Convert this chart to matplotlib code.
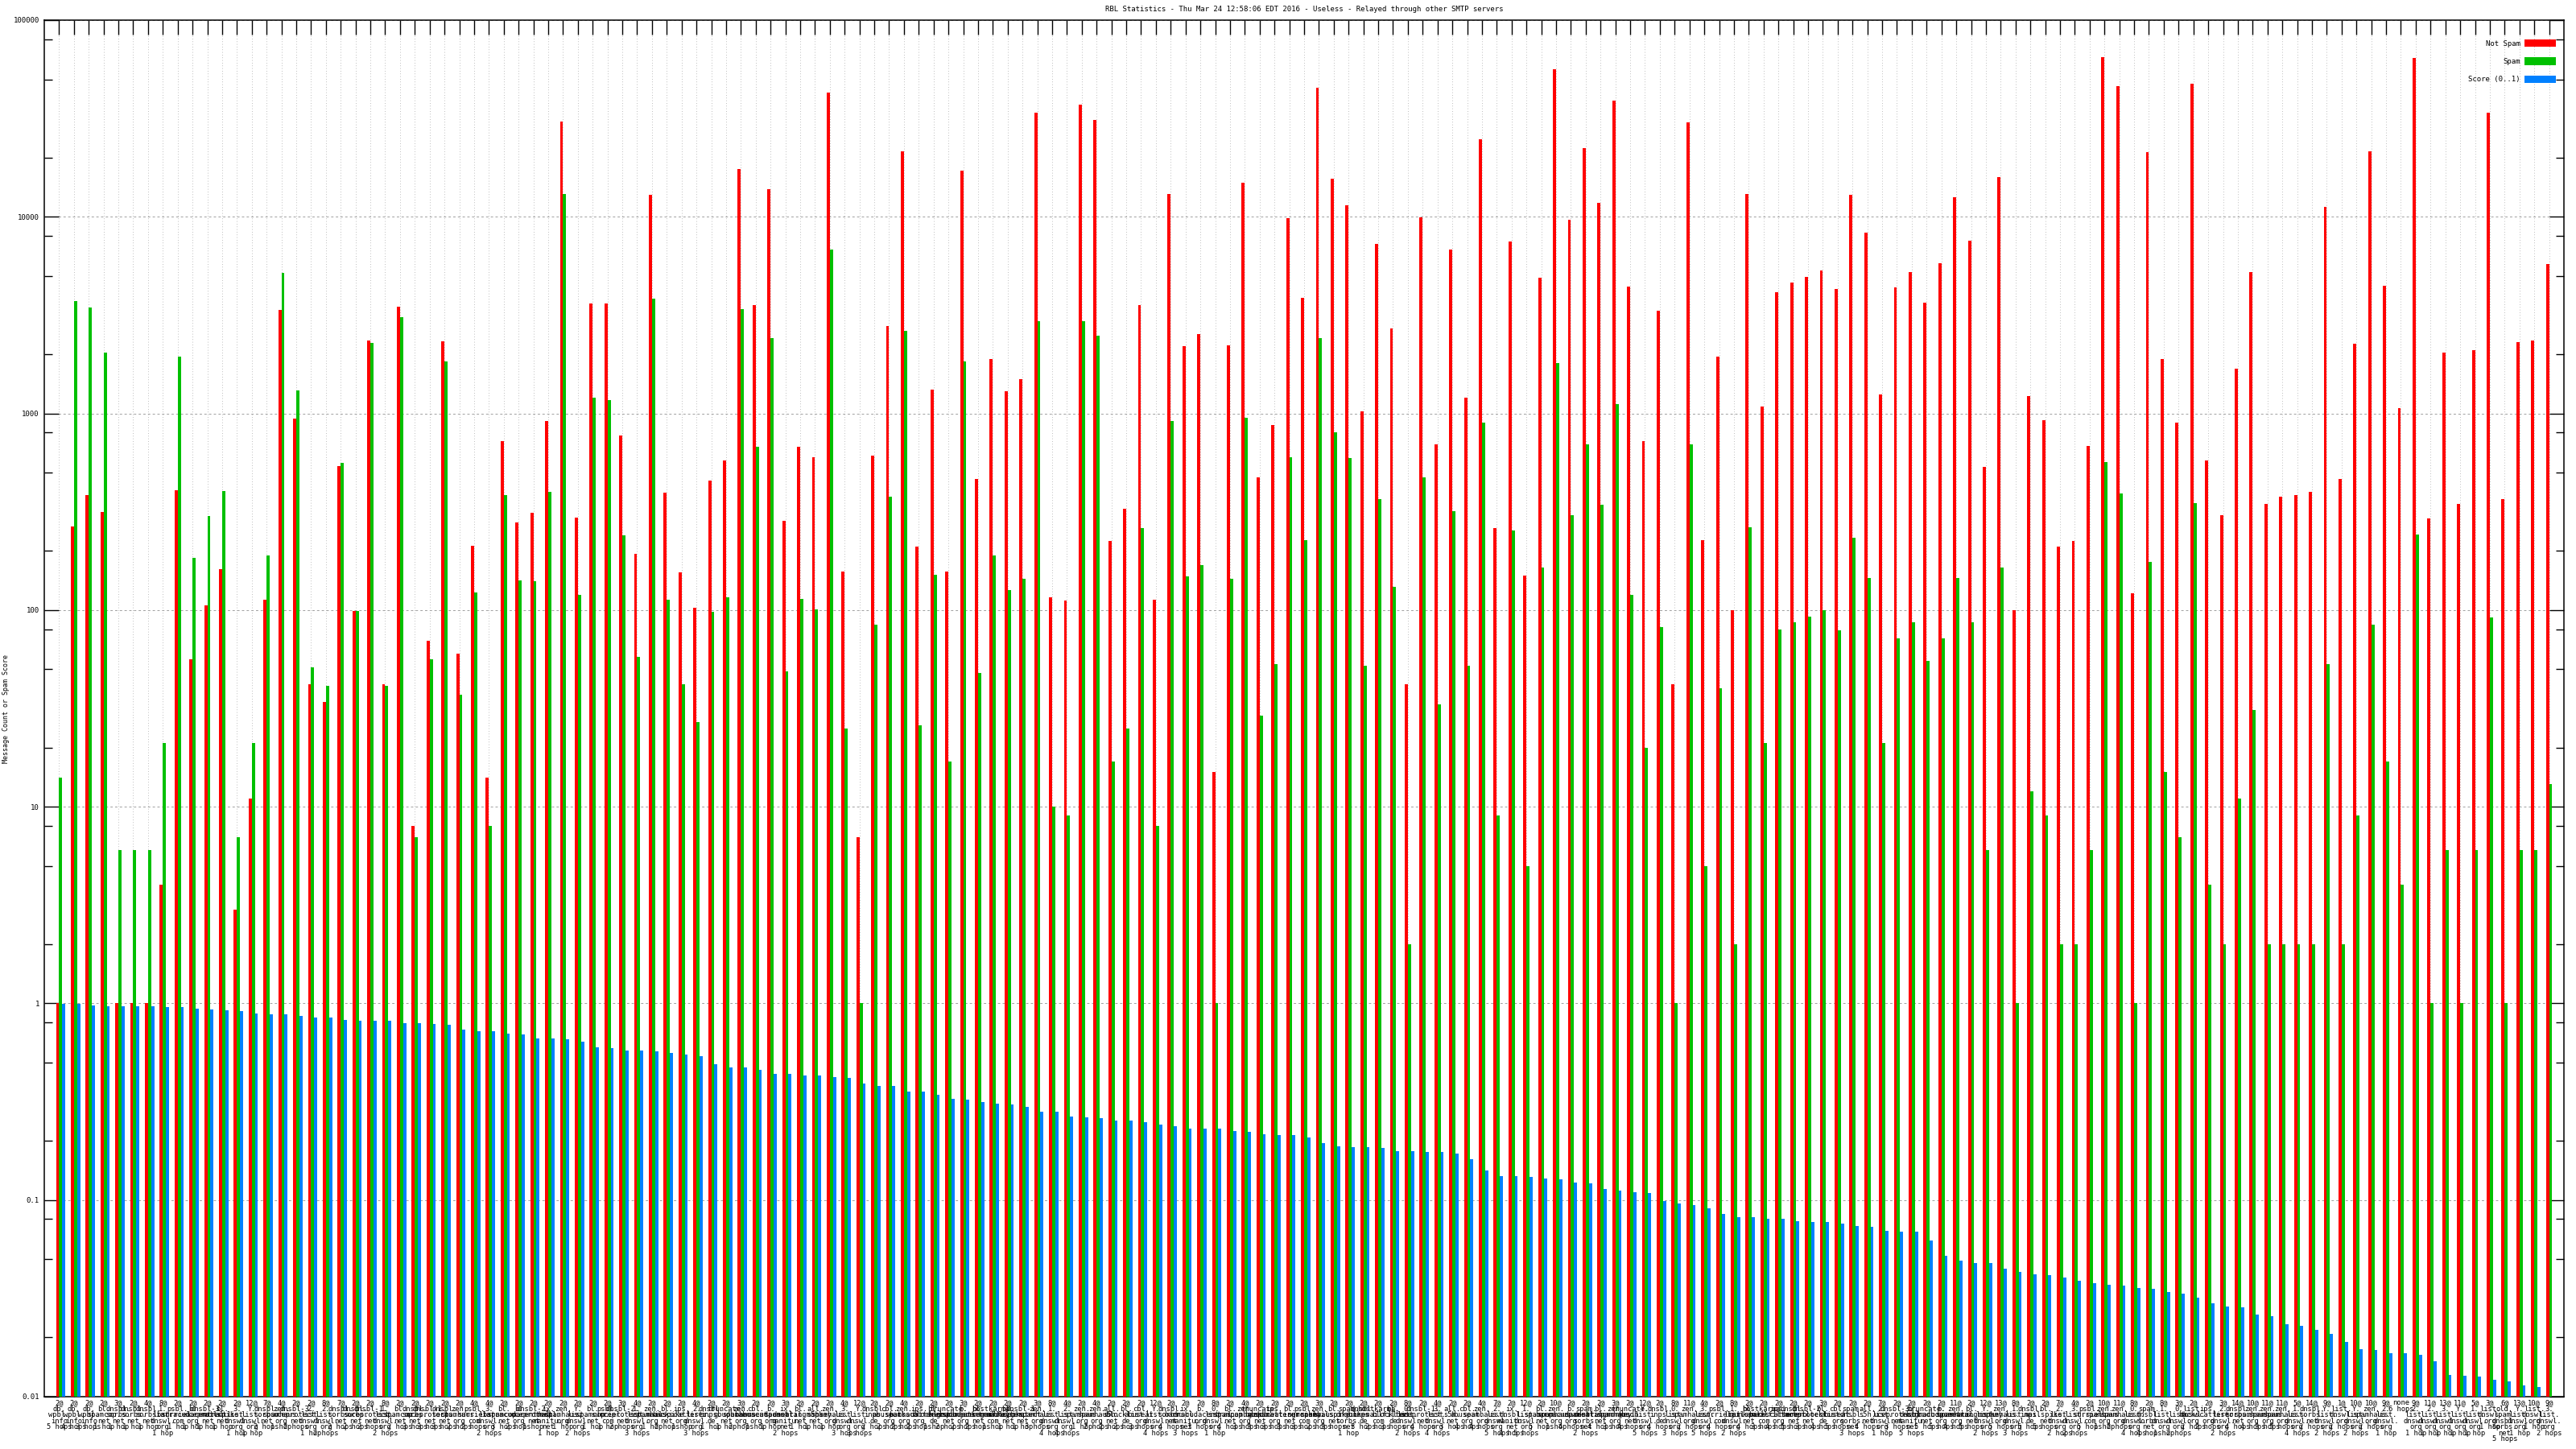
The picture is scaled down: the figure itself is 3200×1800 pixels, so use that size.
import numpy as np
import matplotlib.pyplot as plt
from matplotlib.ticker import FixedLocator, FixedFormatter, LogLocator, NullFormatter

# message counts per RBL result (not spam / spam) and spam score
not_spam = [1, 267, 383, 315, 1, 1, 1, 4, 407, 56,
            106, 162, 3, 11, 113, 3350, 940, 42, 34, 538,
            99, 2356, 42, 3490, 8, 70, 2333, 60, 212, 14,
            726, 278, 311, 912, 30500, 296, 3636, 3636, 773, 194,
            12950, 395, 156, 103, 456, 579, 17470, 3562, 13770, 284,
            675, 597, 42870, 157, 7, 609, 2780, 21480, 210, 1322,
            157, 17110, 466, 1897, 1295, 1496, 33820, 116, 112, 37130,
            31130, 224, 328, 3562, 113, 13090, 2193, 2533, 15, 2215,
            14960, 471, 875, 9795, 3868, 45170, 15600, 11430, 1021, 7261,
            2694, 42, 9900, 697, 6823, 1205, 24820, 261, 7487, 150,
            4906, 56070, 9700, 22390, 11800, 39080, 4424, 726, 3314, 42,
            30190, 226, 1936, 100, 13090, 1086, 4115, 4610, 4955, 5326,
            4288, 12950, 8305, 1243, 4377, 5217, 3673, 5786, 12560, 7566,
            533, 15920, 100, 1230, 921, 210, 224, 683, 64860, 46110,
            122, 21250, 1897, 902, 47550, 579, 305, 1693, 5217, 345,
            379, 383, 399, 11200, 466, 2261, 21480, 4470, 1064, 64150,
            293, 2038, 345, 2103, 33820, 367, 2308, 2356, 5728]

spam = [14, 3715, 3452, 2038, 6, 6, 6, 21, 1936, 184,
        302, 403, 7, 21, 190, 5164, 1309, 51, 41, 561,
        99, 2285, 41, 3083, 7, 56, 1840, 37, 123, 8,
        383, 141, 140, 399, 13090, 119, 1205, 1167, 240, 58,
        3830, 113, 42, 27, 98, 116, 3381, 675, 2405, 49,
        114, 101, 6823, 25, 1, 84, 379, 2640, 26, 151,
        17, 1840, 48, 190, 126, 144, 2958, 10, 9, 2958,
        2481, 17, 25, 261, 8, 912, 148, 169, 1, 144,
        950, 29, 53, 597, 226, 2405, 805, 591, 52, 367,
        131, 2, 471, 33, 318, 52, 902, 9, 253, 5,
        164, 1801, 305, 697, 342, 1120, 120, 20, 82, 1,
        697, 5, 40, 2, 264, 21, 80, 87, 93, 100,
        79, 233, 145, 21, 72, 87, 55, 72, 145, 87,
        6, 164, 1, 12, 9, 2, 2, 6, 567, 391,
        1, 175, 15, 7, 349, 4, 2, 11, 31, 2,
        2, 2, 2, 53, 2, 9, 84, 17, 4, 243,
        1, 6, 1, 6, 92, 1, 6, 6, 13]

score = [0.99, 0.99, 0.98, 0.97, 0.97, 0.97, 0.97, 0.96, 0.96, 0.94,
         0.93, 0.92, 0.91, 0.89, 0.88, 0.88, 0.865, 0.848, 0.848, 0.822,
         0.813, 0.813, 0.813, 0.797, 0.797, 0.789, 0.78, 0.734, 0.719, 0.719,
         0.704, 0.697, 0.662, 0.662, 0.655, 0.641, 0.597, 0.591, 0.578, 0.578,
         0.573, 0.561, 0.549, 0.538, 0.491, 0.471, 0.471, 0.461, 0.438, 0.438,
         0.429, 0.429, 0.42, 0.416, 0.391, 0.379, 0.379, 0.356, 0.356, 0.342,
         0.328, 0.325, 0.315, 0.308, 0.305, 0.299, 0.281, 0.281, 0.267, 0.264,
         0.261, 0.253, 0.253, 0.248, 0.241, 0.238, 0.231, 0.231, 0.231, 0.224,
         0.222, 0.217, 0.215, 0.215, 0.208, 0.194, 0.188, 0.186, 0.186, 0.184,
         0.178, 0.177, 0.175, 0.175, 0.173, 0.161, 0.141, 0.132, 0.132, 0.131,
         0.129, 0.127, 0.123, 0.122, 0.114, 0.112, 0.110, 0.109, 0.099, 0.096,
         0.094, 0.091, 0.085, 0.082, 0.082, 0.080, 0.080, 0.078, 0.077, 0.077,
         0.076, 0.074, 0.073, 0.070, 0.069, 0.069, 0.062, 0.052, 0.049, 0.048,
         0.0476, 0.0447, 0.0429, 0.042, 0.0416, 0.0403, 0.0387, 0.0379, 0.0371, 0.0367,
         0.0356, 0.0352, 0.0342, 0.0335, 0.0318, 0.0299, 0.0287, 0.0284, 0.0261, 0.0256,
         0.0233, 0.0229, 0.0219, 0.0208, 0.0190, 0.0175, 0.0173, 0.0166, 0.0166, 0.0164,
         0.0151, 0.0129, 0.0128, 0.0126, 0.0122, 0.0120, 0.0114, 0.0112, np.nan]

# x labels: result code, list queried, hop count
codes = ["2@", "2@", "2@", "2@", "3@", "2@", "4@", "8@", "2@", "2@",
         "2@", "2@", "2@", "12@", "7@", "4@", "2@", "2@", "8@", "7@",
         "2@", "2@", "8@", "2@", "2@", "2@", "2@", "2@", "4@", "4@",
         "2@", "2@", "2@", "2@", "2@", "2@", "2@", "2@", "3@", "4@",
         "2@", "2@", "2@", "4@", "2@", "2@", "3@", "2@", "2@", "3@",
         "2@", "2@", "2@", "4@", "12@", "2@", "2@", "4@", "2@", "2@",
         "2@", "3@", "2@", "2@", "2@", "2@", "3@", "8@", "4@", "2@",
         "4@", "2@", "2@", "2@", "12@", "2@", "2@", "2@", "8@", "2@",
         "4@", "2@", "2@", "2@", "2@", "3@", "2@", "2@", "2@", "2@",
         "2@", "8@", "2@", "4@", "2@", "2@", "4@", "7@", "2@", "12@",
         "2@", "10@", "2@", "2@", "2@", "3@", "2@", "12@", "2@", "8@",
         "11@", "4@", "2@", "8@", "2@", "2@", "2@", "2@", "2@", "3@",
         "2@", "2@", "2@", "7@", "2@", "2@", "2@", "2@", "11@", "2@",
         "12@", "13@", "8@", "2@", "2@", "7@", "4@", "2@", "10@", "11@",
         "8@", "2@", "8@", "3@", "2@", "2@", "3@", "14@", "10@", "11@",
         "11@", "5@", "14@", "9@", "1@", "10@", "10@", "9@", "none", "9@",
         "11@", "13@", "11@", "5@", "3@", "6@", "13@", "10@", "9@"]

lists = ["db.wpbl.info", "db.wpbl.info", "db.wpbl.info", "bl.spamcop.net", "dnsbl.sorbs.net",
         "dnsbl.sorbs.net", "dnsbl.sorbs.net", "1.list.dnswl.org", "psbl.surriel.com", "b.barracudacentral.org",
         "dnsbl-3.uceprotect.net", "bl.mailspike.net", "3.list.dnswl.org", "Y.list.dnswl.org", "dnsbl.sorbs.net",
         "zen.spamhaus.org", "dnsbl-3.uceprotect.net", "2.list.dnswl.org", "2.list.dnswl.org", "dnsbl.sorbs.net",
         "dnsbl.sorbs.net", "dnsbl-1.uceprotect.net", "1.list.dnswl.org", "bl.spamcop.net", "dnsbl.sorbs.net",
         "dnsbl-1.uceprotect.net", "dnsbl.sorbs.net", "zen.spamhaus.org", "psbl.surriel.com", "3.list.dnswl.org",
         "bl.spamcop.net", "b.barracudacentral.org", "dnsbl-2.uceprotect.net", "ix.dnsbl.manitu.net", "zen.spamhaus.org",
         "Y.list.dnswl.org", "bl.spamcop.net", "psbl.surriel.com", "dnsbl-2.uceprotect.net", "1.list.dnswl.org",
         "zen.spamhaus.org", "bl.mailspike.net", "ips.backscatterer.org", "2.list.dnswl.org", "dnsbl.inps.de",
         "truncate.gbudb.net", "zen.spamhaus.org", "cbl.abuseat.org", "b.barracudacentral.org", "ix.dnsbl.manitu.net",
         "bl.spameatingmonkey.net", "all.s5h.net", "zen.spamhaus.org", "3.list.dnswl.org", "Y.list.dnswl.org",
         "dnsbl.inps.de", "cbl.abuseat.org", "zen.spamhaus.org", "ips.backscatterer.org", "bl.blocklist.de",
         "truncate.gbudb.net", "b.barracudacentral.org", "bl.spameatingmonkey.net", "hostkarma.junkemailfilter.com", "bl.mailspike.net",
         "dnsbl-1.uceprotect.net", "zen.spamhaus.org", "1.list.dnswl.org", "2.list.dnswl.org", "zen.spamhaus.org",
         "zen.spamhaus.org", "all.s5h.net", "bl.blocklist.de", "cbl.abuseat.org", "Y.list.dnswl.org",
         "dnsbl.sorbs.net", "ix.dnsbl.manitu.net", "b.barracudacentral.org", "0.list.dnswl.org", "bl.spamcop.net",
         "zen.spamhaus.org", "truncate.gbudb.net", "ips.backscatterer.org", "bl.spameatingmonkey.net", "psbl.surriel.com",
         "zen.spamhaus.org", "bl.mailspike.net", "spam.dnsbl.sorbs.net", "dnsbl.inps.de", "hostkarma.junkemailfilter.com",
         "bl.blocklist.de", "0.list.dnswl.org", "dnsbl-1.uceprotect.net", "3.list.dnswl.org", "all.s5h.net",
         "cbl.abuseat.org", "zen.spamhaus.org", "2.list.dnswl.org", "ix.dnsbl.manitu.net", "1.list.dnswl.org",
         "bl.spamcop.net", "zen.spamhaus.org", "b.barracudacentral.org", "spam.dnsbl.sorbs.net", "bl.spameatingmonkey.net",
         "zen.spamhaus.org", "truncate.gbudb.net", "Y.list.dnswl.org", "dnsbl.inps.de", "0.list.dnswl.org",
         "zen.spamhaus.org", "3.list.dnswl.org", "psbl.surriel.com", "1.list.dnswl.org", "bl.mailspike.net",
         "hostkarma.junkemailfilter.com", "ips.backscatterer.org", "dnsbl.sorbs.net", "dnsbl-2.uceprotect.net", "bl.blocklist.de",
         "cbl.abuseat.org", "spam.dnsbl.sorbs.net", "all.s5h.net", "2.list.dnswl.org", "dnsbl-3.uceprotect.net",
         "ix.dnsbl.manitu.net", "truncate.gbudb.net", "b.barracudacentral.org", "zen.spamhaus.org", "bl.spameatingmonkey.net",
         "Y.list.dnswl.org", "zen.spamhaus.org", "1.list.dnswl.org", "dnsbl.inps.de", "bl.mailspike.net",
         "2.list.dnswl.org", "3.list.dnswl.org", "psbl.surriel.com", "zen.spamhaus.org", "zen.spamhaus.org",
         "0.list.dnswl.org", "spam.dnsbl.sorbs.net", "1.list.dnswl.org", "0.list.dnswl.org", "list.dnswl.org",
         "ips.backscatterer.org", "2.list.dnswl.org", "dnsbl.sorbs.net", "zen.spamhaus.org", "zen.spamhaus.org",
         "zen.spamhaus.org", "1.list.dnswl.org", "dnsbl.sorbs.net", "Y.list.dnswl.org", "list.dnswl.org",
         "Y.list.dnswl.org", "zen.spamhaus.org", "2.list.dnswl.org", "", "2.list.dnswl.org",
         "2.list.dnswl.org", "3.list.dnswl.org", "Y.list.dnswl.org", "1.list.dnswl.org", "list.dnswl.org",
         "old.spam.dnsbl.sorbs.net", "Y.list.dnswl.org", "list.dnswl.org", "3.list.dnswl.org"]

hops = [5, 4, 3, 1, 1, 1, 1, 1, 1, 1,
        1, 1, 1, 1, 2, 1, 2, 1, 2, 2,
        2, 2, 2, 2, 3, 3, 3, 2, 2, 2,
        3, 2, 1, 1, 1, 2, 1, 1, 2, 3,
        1, 2, 1, 3, 1, 1, 2, 1, 1, 2,
        1, 1, 1, 3, 3, 2, 2, 2, 2, 1,
        2, 2, 2, 1, 1, 1, 3, 4, 4, 1,
        2, 2, 2, 3, 4, 4, 3, 3, 1, 4,
        3, 3, 3, 3, 3, 2, 3, 1, 3, 2,
        3, 2, 4, 4, 3, 4, 4, 5, 4, 5,
        5, 1, 4, 2, 4, 3, 4, 5, 4, 3,
        2, 5, 4, 2, 4, 3, 4, 5, 3, 4,
        5, 3, 4, 1, 3, 5, 5, 5, 4, 5,
        2, 5, 3, 5, 5, 2, 2, 5, 1, 2,
        4, 4, 1, 2, 2, 2, 2, 4, 4, 3,
        5, 4, 2, 2, 2, 2, 2, 1, 6, 1,
        1, 1, 1, 1, 1, 5, 1, 1, 2]

ytick_vals = [0.01, 0.1, 1, 10, 100, 1000, 10000, 100000]
ytick_text = ["0.01", "0.1", "1", "10", "100", "1000", "10000", "100000"]

title = "RBL Statistics - Thu Mar 24 12:58:06 EDT 2016 - Useless - Relayed through other SMTP servers"


def make_label(code, rbl, h):
    unit = "hop" if h == 1 else "hops"
    if not rbl:
        return f"{code}\n{h} {unit}"
    return f"{code}\n{rbl.replace('.', '.' + chr(10))}\n{h} {unit}"


labels = [make_label(c, l, h) for c, l, h in zip(codes, lists, hops)]

mono = "DejaVu Sans Mono"
fig = plt.figure(figsize=(32, 18), dpi=100)
ax = fig.add_axes([55 / 3200, 65 / 1800, 3130 / 3200, 1710 / 1800])

x = np.arange(len(not_spam))
w = 0.21
ax.bar(x - w / 2, not_spam, w, color="#ff0000", label="Not Spam", zorder=3)
ax.bar(x + w / 2, spam, w, color="#00c000", label="Spam", zorder=3)
ax.bar(x + 1.5 * w, score, w, color="#0080ff", label="Score (0..1)", zorder=3)

ax.set_yscale("log")
ax.set_ylim(0.01, 100000)
ax.set_xlim(-1, len(not_spam))

ax.yaxis.set_major_locator(FixedLocator(ytick_vals))
ax.yaxis.set_major_formatter(FixedFormatter(ytick_text))
ax.yaxis.set_minor_locator(LogLocator(base=10, subs=(2, 5, 8)))
ax.yaxis.set_minor_formatter(NullFormatter())
ax.set_xticks(x)
ax.set_xticklabels(labels, fontfamily=mono, fontsize=6.3, linespacing=0.78, va="top")

ax.tick_params(axis="y", which="major", direction="in", length=13, width=1, left=True, right=True,
               pad=4.5, labelsize=6.5)
ax.tick_params(axis="y", which="minor", direction="in", length=7, width=1, left=True, right=True)
ax.tick_params(axis="x", which="major", direction="in", length=13, width=1, top=True, bottom=True, pad=2.5)
for t in ax.get_yticklabels():
    t.set_fontfamily(mono)

ax.grid(axis="y", which="major", linestyle=(0, (3, 3)), color="#a0a0a0", linewidth=0.7, zorder=0)
ax.grid(axis="x", which="major", linestyle=(0, (1, 3)), color="#a8a8a8", linewidth=0.6, zorder=0)
for s in ax.spines.values():
    s.set_linewidth(1.1)

leg = ax.legend(loc="upper right", bbox_to_anchor=(1 - 10 / 3130, 1 - 24 / 1710), borderaxespad=0,
                borderpad=0, frameon=False, markerfirst=False, handlelength=4.3, handleheight=1.2,
                handletextpad=0.6, labelspacing=1.4, prop={"family": mono, "size": 6.5})

fig.text(0.5 * (55 + 3185) / 3200, 1 - 12 / 1800, title, ha="center", va="center",
         fontfamily=mono, fontsize=6.5)
fig.text(8 / 3200, 1 - 880 / 1800, "Message Count or Spam Score", rotation=90, ha="center",
         va="center", fontfamily=mono, fontsize=6)

fig.savefig("out.png", dpi=100)
